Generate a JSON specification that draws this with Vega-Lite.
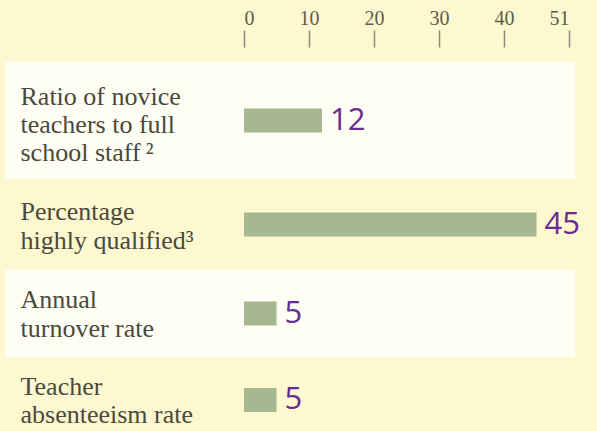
{
  "$schema": "https://vega.github.io/schema/vega-lite/v6.json",
  "background": "#FDF8CF",
  "padding": {"left": 5, "top": 8, "right": 20, "bottom": 0},
  "spacing": 0,
  "config": {"view": {"stroke": null}, "concat": {"spacing": 0}},
  "data": {"values": [
    {"metric": "ratio", "label": "Ratio of novice|teachers to full|school staff\u2009²", "value": 12},
    {"metric": "qualified", "label": "Percentage|highly qualified³", "value": 45},
    {"metric": "turnover", "label": "Annual|turnover rate", "value": 5},
    {"metric": "absent", "label": "Teacher|absenteeism rate", "value": 5}
  ]},
  "resolve": {"scale": {"x": "independent", "y": "independent"}},
  "vconcat": [
    {
      "width": 570, "height": 117,
      "view": {"fill": "#FFFEF4", "stroke": null},
      "transform": [{"filter": "datum.metric == 'ratio'"}],
      "encoding": {
        "y": {"field": "label", "type": "nominal", "scale": {"paddingInner": 0, "paddingOuter": 0},
          "axis": {"title": null, "domain": false, "ticks": false, "tickSize": 0, "labelAlign": "left", "labelPadding": -15, "labelOffset": -24, "labelExpr": "split(datum.label, '|')", "labelFont": "Liberation Serif", "labelFontSize": 26, "labelLineHeight": 28, "labelColor": "#4A493B", "labelBaseline": "middle", "labelLimit": 0}},
        "x": {"field": "value", "type": "quantitative", "scale": {"domain": [0, 50], "range": [239, 564], "nice": false},
          "axis": {"orient": "top", "title": null, "values": [0, 10, 20, 30, 40, 50], "labelExpr": "datum.value == 50 ? '51' : datum.label", "domain": false, "grid": false, "tickSize": 17, "tickColor": "#8C8B78", "tickWidth": 1.5, "offset": 15, "labelPadding": 2, "labelFont": "Liberation Serif", "labelFontSize": 20, "labelColor": "#5E5D4C"}}
      },
      "layer": [
        {"mark": {"type": "bar", "size": 24, "color": "#A5B88F"}},
        {"mark": {"type": "text", "align": "left", "baseline": "middle", "dx": 8, "font": "Open Sans", "fontSize": 31, "color": "#6A2C8E"}, "encoding": {"text": {"field": "value", "type": "quantitative"}}}
      ]
    },
    {
      "width": 570, "height": 91,
      "transform": [{"filter": "datum.metric == 'qualified'"}],
      "encoding": {
        "y": {"field": "label", "type": "nominal", "scale": {"paddingInner": 0, "paddingOuter": 0},
          "axis": {"title": null, "domain": false, "ticks": false, "tickSize": 0, "labelAlign": "left", "labelPadding": -15, "labelOffset": -13, "labelExpr": "split(datum.label, '|')", "labelFont": "Liberation Serif", "labelFontSize": 26, "labelLineHeight": 29, "labelColor": "#4A493B", "labelBaseline": "middle", "labelLimit": 0}},
        "x": {"field": "value", "type": "quantitative", "scale": {"domain": [0, 50], "range": [239, 564], "nice": false}, "axis": null}
      },
      "layer": [
        {"mark": {"type": "bar", "size": 24, "color": "#A5B88F"}},
        {"mark": {"type": "text", "align": "left", "baseline": "middle", "dx": 8, "font": "Open Sans", "fontSize": 31, "color": "#6A2C8E"}, "encoding": {"text": {"field": "value", "type": "quantitative"}}}
      ]
    },
    {
      "width": 570, "height": 87,
      "view": {"fill": "#FFFEF4", "stroke": null},
      "transform": [{"filter": "datum.metric == 'turnover'"}],
      "encoding": {
        "y": {"field": "label", "type": "nominal", "scale": {"paddingInner": 0, "paddingOuter": 0},
          "axis": {"title": null, "domain": false, "ticks": false, "tickSize": 0, "labelAlign": "left", "labelPadding": -15, "labelOffset": -14, "labelExpr": "split(datum.label, '|')", "labelFont": "Liberation Serif", "labelFontSize": 26, "labelLineHeight": 29, "labelColor": "#4A493B", "labelBaseline": "middle", "labelLimit": 0}},
        "x": {"field": "value", "type": "quantitative", "scale": {"domain": [0, 50], "range": [239, 564], "nice": false}, "axis": null}
      },
      "layer": [
        {"mark": {"type": "bar", "size": 24, "color": "#A5B88F"}},
        {"mark": {"type": "text", "align": "left", "baseline": "middle", "dx": 8, "font": "Open Sans", "fontSize": 31, "color": "#6A2C8E"}, "encoding": {"text": {"field": "value", "type": "quantitative"}}}
      ]
    },
    {
      "width": 570, "height": 86,
      "transform": [{"filter": "datum.metric == 'absent'"}],
      "encoding": {
        "y": {"field": "label", "type": "nominal", "scale": {"paddingInner": 0, "paddingOuter": 0},
          "axis": {"title": null, "domain": false, "ticks": false, "tickSize": 0, "labelAlign": "left", "labelPadding": -15, "labelOffset": -13, "labelExpr": "split(datum.label, '|')", "labelFont": "Liberation Serif", "labelFontSize": 26, "labelLineHeight": 28, "labelColor": "#4A493B", "labelBaseline": "middle", "labelLimit": 0}},
        "x": {"field": "value", "type": "quantitative", "scale": {"domain": [0, 50], "range": [239, 564], "nice": false}, "axis": null}
      },
      "layer": [
        {"mark": {"type": "bar", "size": 24, "color": "#A5B88F"}},
        {"mark": {"type": "text", "align": "left", "baseline": "middle", "dx": 8, "font": "Open Sans", "fontSize": 31, "color": "#6A2C8E"}, "encoding": {"text": {"field": "value", "type": "quantitative"}}}
      ]
    }
  ]
}
